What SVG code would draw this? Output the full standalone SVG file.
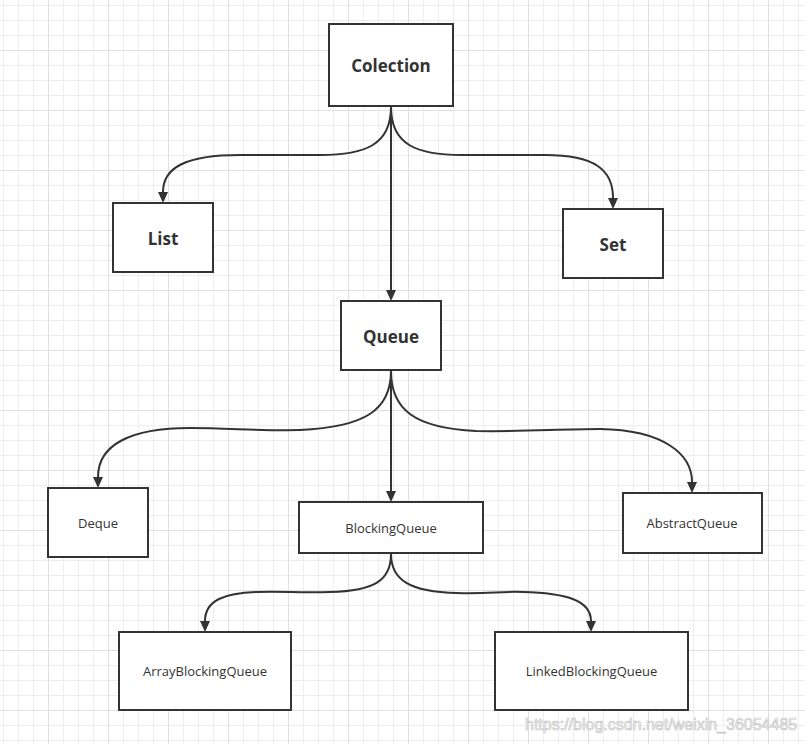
<svg xmlns="http://www.w3.org/2000/svg" width="805" height="744" viewBox="0 0 805 744">
<style>
.box{fill:#ffffff;stroke:#333333;stroke-width:2}
.edge{fill:none;stroke:#333333;stroke-width:2}
.big{font-family:"Open Sans","Noto Sans","DejaVu Sans",sans-serif;font-size:17px;font-weight:bold;fill:#333333;text-anchor:middle}
.small{font-family:"Open Sans","Noto Sans","DejaVu Sans",sans-serif;font-size:13px;fill:#333333;text-anchor:middle}
.wm{font-family:"Liberation Sans",Arial,sans-serif;font-size:16px;fill:#fafafa;stroke:#c6c6c6;stroke-width:0.7}
</style>
<defs>
<pattern id="minor" patternUnits="userSpaceOnUse" x="3" y="5" width="15" height="15">
<path d="M0.5,0 V15 M0,0.5 H15" stroke="#eeeeee" stroke-width="1" fill="none"/>
</pattern>
<pattern id="major" patternUnits="userSpaceOnUse" x="48" y="50" width="60" height="60">
<path d="M0.5,0 V60 M0,0.5 H60" stroke="#e0e0e0" stroke-width="1" fill="none"/>
</pattern>
<marker id="arrow" markerUnits="userSpaceOnUse" viewBox="0 0 11 10" refX="0" refY="5" markerWidth="11" markerHeight="10" orient="auto">
<path d="M0,0 L11,5 L0,10 z" fill="#333333"/>
</marker>
</defs>
<rect x="0" y="0" width="805" height="744" fill="#ffffff"/>
<rect x="0" y="0" width="805" height="744" fill="url(#minor)"/>
<rect x="0" y="0" width="805" height="744" fill="url(#major)"/>

<g id="connectors">
<path class="edge" marker-end="url(#arrow)" d="M391,107 C391,145 365,155 320,155 L240,155 C185,155 163,168 163,192"/>
<path class="edge" marker-end="url(#arrow)" d="M391,107 C391,145 417,155 462,155 L545,155 C595,155 613,170 613,198"/>
<path class="edge" marker-end="url(#arrow)" d="M391,107 V290"/>
<path class="edge" marker-end="url(#arrow)" d="M391,371 C391,410 365,427 300,430 C260,431 230,428 190,428 C130,428 98,445 98,477"/>
<path class="edge" marker-end="url(#arrow)" d="M391,371 C391,410 415,428 476,431 C520,432 560,429 600,429 C665,430 692,455 692,482"/>
<path class="edge" marker-end="url(#arrow)" d="M391,371 V491"/>
<path class="edge" marker-end="url(#arrow)" d="M391,554 C391,580 375,591 330,592 C300,593 280,591 257,592 C225,593 205,600 205,621"/>
<path class="edge" marker-end="url(#arrow)" d="M391,554 C391,580 410,592 457,593 C490,594 500,591 523,592 C565,593 591,600 591,621"/>
</g>

<g id="node-collection">
<rect class="box" x="329" y="24" width="124" height="82"/>
<text class="big" x="391" y="72">Colection</text>
</g>
<g id="node-list">
<rect class="box" x="113" y="203" width="100" height="69"/>
<text class="big" x="163" y="245">List</text>
</g>
<g id="node-set">
<rect class="box" x="563" y="209" width="100" height="69"/>
<text class="big" x="613" y="251">Set</text>
</g>
<g id="node-queue">
<rect class="box" x="341" y="301" width="100" height="69"/>
<text class="big" x="391" y="343">Queue</text>
</g>
<g id="node-deque">
<rect class="box" x="48" y="488" width="100" height="69"/>
<text class="small" x="98" y="528">Deque</text>
</g>
<g id="node-blockingqueue">
<rect class="box" x="299" y="502" width="184" height="51"/>
<text class="small" x="391" y="533">BlockingQueue</text>
</g>
<g id="node-abstractqueue">
<rect class="box" x="623" y="493" width="139" height="60"/>
<text class="small" x="692" y="528">AbstractQueue</text>
</g>
<g id="node-arrayblockingqueue">
<rect class="box" x="119" y="632" width="172" height="78"/>
<text class="small" x="205" y="676">ArrayBlockingQueue</text>
</g>
<g id="node-linkedblockingqueue">
<rect class="box" x="495" y="632" width="193" height="78"/>
<text class="small" x="591.5" y="676">LinkedBlockingQueue</text>
</g>

<text class="wm" x="525" y="730">https://blog.csdn.net/weixin_36054485</text>
</svg>
